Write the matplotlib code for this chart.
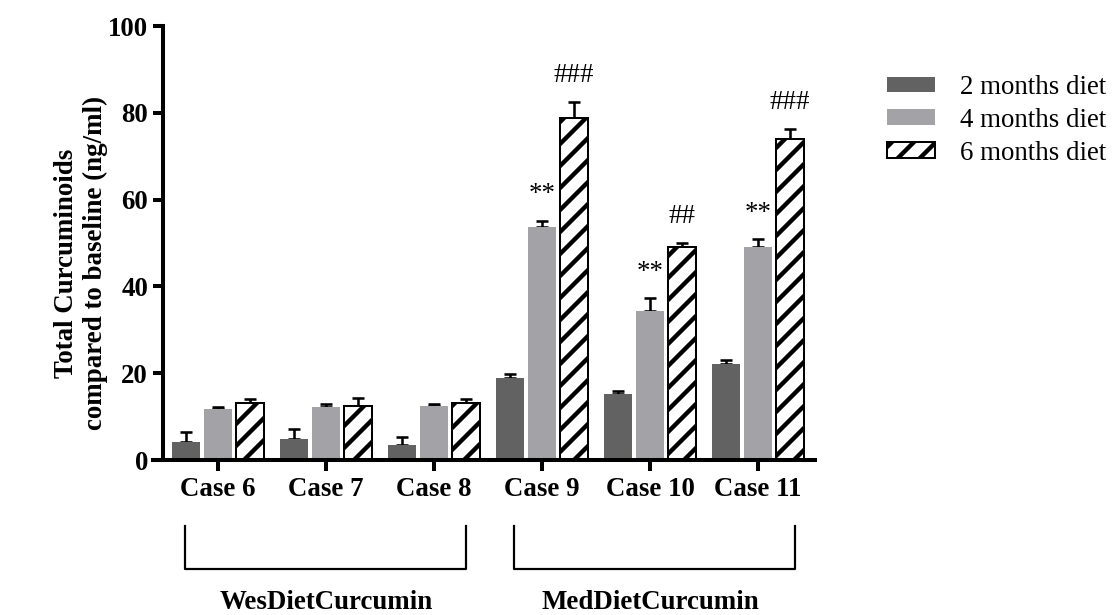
import matplotlib
matplotlib.use("Agg")
import matplotlib.pyplot as plt
import numpy as np
from matplotlib.transforms import blended_transform_factory

# values
cases = ["Case 6", "Case 7", "Case 8", "Case 9", "Case 10", "Case 11"]
series_labels = ["2 months diet", "4 months diet", "6 months diet"]

mean_2m = [4.1, 4.8, 3.5, 18.9, 15.2, 22.1]
err_2m = [2.4, 2.3, 1.8, 0.9, 0.7, 0.9]
mean_4m = [11.8, 12.2, 12.4, 53.7, 34.3, 49.1]
err_4m = [0.4, 0.7, 0.5, 1.4, 3.0, 1.8]
mean_6m = [13.1, 12.4, 13.1, 78.8, 49.1, 74.0]
err_6m = [1.0, 1.9, 1.0, 3.7, 0.9, 2.3]

y_ticks = [0, 20, 40, 60, 80, 100]

# significance marks: (case index, series index, text)
marks = [(3, 1, "**"), (4, 1, "**"), (5, 1, "**"),
         (3, 2, "###"), (4, 2, "##"), (5, 2, "###")]

groups = ["WesDietCurcumin", "MedDietCurcumin"]
group_spans = [(0, 2), (3, 5)]

DPI = 132
FS = 14.7
plt.rcParams["font.family"] = ["Liberation Serif", "DejaVu Serif"]
plt.rcParams["hatch.linewidth"] = 2.4

fig = plt.figure(figsize=(1120 / DPI, 615 / DPI), dpi=DPI)
ax = fig.add_axes([153 / 1120, 155 / 615, 662 / 1120, 434 / 615])

x = np.arange(len(cases))
width = 0.259
step = 0.296
means = [mean_2m, mean_4m, mean_6m]
errs = [err_2m, err_4m, err_6m]
styles = [
    dict(color="#626262", edgecolor="none"),
    dict(color="#a3a3a7", edgecolor="none"),
    dict(facecolor="white", edgecolor="black", hatch="//", linewidth=1.1),
]

for i, (m, e, st) in enumerate(zip(means, errs, styles)):
    xs = x + (i - 1) * step
    ax.bar(xs, m, width=width, label=series_labels[i], zorder=2, **st)
    ax.errorbar(xs, m, yerr=[np.zeros(len(e)), e], fmt="none",
                ecolor="black", elinewidth=1.4, capsize=3.5, capthick=1.4,
                zorder=1)

for ci, si, txt in marks:
    top = means[si][ci] + errs[si][ci]
    ax.text(ci + (si - 1) * step, top + 6, txt, ha="center", va="center",
            fontsize=FS)

# axis styling (spine position first, it resets the ticks)
for side in ["top", "right"]:
    ax.spines[side].set_visible(False)
ax.spines["left"].set_position(("data", -0.509))
ax.spines["left"].set_linewidth(2.2)
ax.spines["bottom"].set_linewidth(2.2)

ax.set_xlim(-0.602, 5.528)
ax.set_ylim(0, 100)
ax.set_yticks(y_ticks)
ax.set_yticklabels([str(t) for t in y_ticks], fontweight="bold", fontsize=FS)
ax.set_xticks(x)
ax.set_xticklabels(cases, fontweight="bold", fontsize=FS)
ax.tick_params(axis="y", length=5.5, width=2.2, pad=2.7)
ax.tick_params(axis="x", length=6, width=2.2, pad=3)

fig.text(81 / 1120, 1 - 263 / 615,
         "Total Curcuminoids\ncompared to baseline (ng/ml)",
         rotation=90, ha="center", va="center", ma="center",
         fontsize=FS, fontweight="bold", linespacing=1.15)

# group brackets under the case labels
trans = blended_transform_factory(ax.transData, ax.transAxes)
pads = [(-0.31, 0.30), (-0.26, 0.34)]
for (g0, g1), (p0, p1), name in zip(group_spans, pads, groups):
    x0, x1 = g0 + p0, g1 + p1
    ax.plot([x0, x0, x1, x1], [-0.152, -0.251, -0.251, -0.152],
            color="black", linewidth=1.2, transform=trans, clip_on=False)
    ax.text((g0 + g1) / 2, -0.343, name, transform=trans, ha="center",
            va="baseline", fontsize=FS, fontweight="bold")

fig.legend(loc="upper left", bbox_to_anchor=(887 / 1120, 1 - 75 / 615),
           frameon=False, fontsize=FS, handlelength=1.78, handleheight=0.52,
           handletextpad=0.93, labelspacing=0.29, borderpad=0,
           borderaxespad=0)

fig.savefig("out.png", dpi=DPI)
